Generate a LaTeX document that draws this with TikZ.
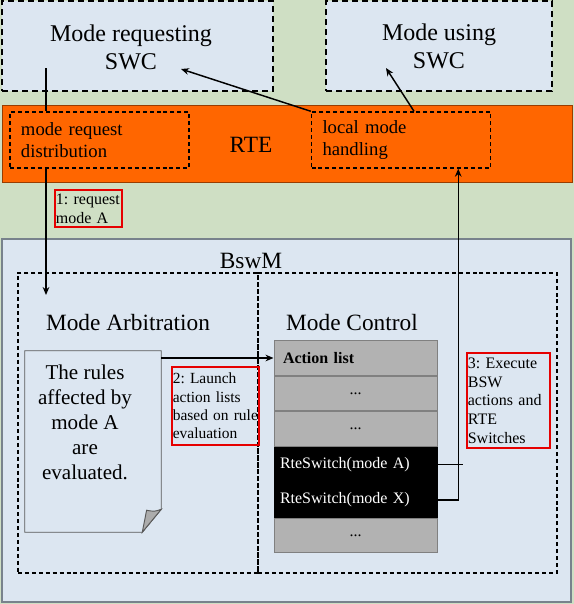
\documentclass[tikz,border=0pt]{standalone}
\usepackage{fontspec}
\setmainfont{Liberation Serif}
\usepackage{xcolor}
\usetikzlibrary{arrows.meta,positioning,calc}
\definecolor{BGgreen}{RGB}{207,223,196}
\definecolor{PALEblue}{RGB}{220,230,241}
\definecolor{RTEorange}{RGB}{255,102,0}
\definecolor{ROWgray}{RGB}{178,178,178}
\definecolor{EDGEgray}{RGB}{120,130,140}
\definecolor{NOTEred}{RGB}{230,0,0}
\frenchspacing
\hyphenpenalty=10000
\tikzset{
  swc/.style={rectangle, draw=black, fill=PALEblue, line width=1.5pt,
              dash pattern=on 4.5pt off 3pt, minimum width=#1, minimum height=67.5pt,
              font=\fontsize{18}{21}\selectfont, align=center},
  rtepart/.style={rectangle, draw=black, line width=1.1pt, dash pattern=on 3pt off 2.2pt,
              minimum width=134.25pt, minimum height=42pt, inner xsep=8.25pt,
              text width=117.75pt, align=left, font=\fontsize{14}{16.5}\selectfont},
  part/.style={rectangle, draw=black, line width=1.1pt, dash pattern=on 3pt off 2.2pt,
              minimum width=#1, minimum height=225pt},
  title/.style={font=\fontsize{17.5}{21}\selectfont},
  note/.style={rectangle, draw=NOTEred, line width=1.3pt, inner xsep=0.6pt, inner ysep=1pt,
              text width=#1, align=left, font=\fontsize{12}{14}\selectfont},
  row/.style={rectangle, draw=gray, fill=ROWgray, line width=0.75pt, inner sep=0pt,
              minimum width=122.25pt, minimum height=25.9pt,
              font=\fontsize{12}{14}\selectfont},
  dots/.style={row, text width=108pt, align=center},
  switch/.style={row, draw=black, fill=black, text=white, text width=113.25pt, align=left},
  arr/.style={-{Stealth[length=6pt,width=5pt]}, line width=1.1pt},
  wire/.style={line width=1.1pt},
}

\begin{document}
\begin{tikzpicture}[x=0.75pt,y=-0.75pt]
  \useasboundingbox (0,0) rectangle (574,604);
  \fill[BGgreen] (0,0) rectangle (574,604);

  % software components and RTE
  \node[swc=203.25pt] (reqswc) at (137.5,46) {};
  \node[font=\fontsize{18}{21}\selectfont, align=center] (reqlbl) at (131,47) {Mode requesting\\SWC};
  \node[swc=169.5pt] (useswc) at (439,46) {Mode using\\SWC};
  \node[rectangle, fill=RTEorange, draw=RTEorange!60!black, line width=0.6pt,
        minimum width=427.5pt, minimum height=57.75pt] (rte) at (287,143.5) {};
  \node[font=\fontsize{17.5}{21}\selectfont] (rtelbl) at (251,145) {RTE};
  \node[rtepart] (mrd) at (99.5,140) {mode request\\distribution};
  \node[rtepart] (lmh) at (401,140) {local mode\\handling};
  \node[note=49pt, minimum height=27.75pt] (n1) at (88.5,208.5) {1: request\\mode A};

  % BswM
  \node[rectangle, fill=PALEblue, draw=EDGEgray, line width=0.8pt,
        minimum width=426.75pt, minimum height=272.25pt] (bswm) at (286.5,420.5) {};
  \node[title] (bswmlbl) at (251,261) {BswM};
  \node[part=180pt] (arbit) at (138,423) {};
  \node[part=224.25pt] (ctrl) at (407.5,423) {};
  \node[title] (arbitlbl) at (128,323) {Mode Arbitration};
  \node[title] (ctrllbl) at (352,323) {Mode Control};

  % rules document
  \node[rectangle, inner sep=0pt, minimum width=102pt, minimum height=135.75pt] (doc) at (93,441.5) {};
  \draw[draw=gray!70!black, fill=PALEblue, line width=0.7pt]
    (doc.north west) -- (doc.north east) -- ([yshift=17.25pt]doc.south east)
    -- ([xshift=-14.25pt]doc.south east) -- (doc.south west) -- cycle;
  \draw[draw=gray!70!black, fill=gray!65, line width=0.7pt]
    ([yshift=17.25pt]doc.south east) .. controls ([xshift=-5pt,yshift=15.5pt]doc.south east)
    .. ([xshift=-11pt,yshift=16.5pt]doc.south east) -- ([xshift=-14.25pt]doc.south east) -- cycle;
  \node[align=center, font=\fontsize{15.8}{18.75}\selectfont] (doctxt) at (85,422)
    {The rules\\affected by\\mode A\\are\\evaluated.};
  \node[note=64pt, minimum height=58.5pt, font=\fontsize{11.6}{13.8}\selectfont] (n2) at (215.5,406)
    {2: Launch\\action lists\\based on rule\\evaluation};

  % action list
  \node[row, text width=108.75pt, align=left, font=\fontsize{12}{14}\selectfont\bfseries] (row1) at (355.5,358) {Action list};
  \node[dots, below=0pt of row1] (row2) {...};
  \node[dots, below=0pt of row2] (row3) {...};
  \node[switch, below=0pt of row3] (rowA) {RteSwitch(mode A)};
  \node[switch, below=0pt of rowA] (rowX) {RteSwitch(mode X)};
  \node[dots, below=0pt of rowX] (row6) {...};
  \node[note=61pt, minimum height=71.25pt] (n3) at (508.5,400.5)
    {3: Execute\\BSW\\actions and\\RTE\\Switches};

  % connectors
  \coordinate (reqout) at (46,68);
  \coordinate (arbin) at (46,295);
  \coordinate (reqin) at (181,69);
  \coordinate (usein) at (386,68);
  \draw[wire] (reqout) -- (reqout |- mrd.north);
  \draw[arr] (reqout |- mrd.south) -- (arbin);
  \draw[arr] (lmh.north west) -- (reqin);
  \draw[arr] ([xshift=9.75pt]lmh.north) -- (usein);
  \draw[arr] (doc.east |- row1.west) -- (row1.west);
  \draw[wire] (rowA.east) -- ++(25,0);
  \draw[arr] (rowX.east) -| ($(lmh.south east)+(-33,0)$);
\end{tikzpicture}
\end{document}
